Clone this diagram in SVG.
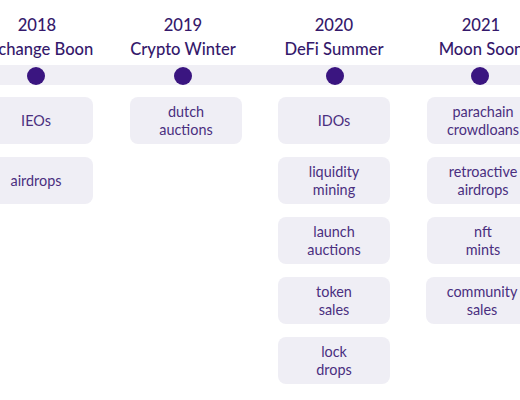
<svg xmlns="http://www.w3.org/2000/svg" width="520" height="400" viewBox="0 0 520 400">
<style>
.hd{font-family:Lato,"Noto Sans",sans-serif;font-size:16.6px;fill:#35196b;text-anchor:middle;font-weight:500}
.bx{fill:#efeef5}
.bt{font-family:Lato,"Noto Sans",sans-serif;font-size:14.4px;fill:#4a2f80;text-anchor:middle}
.dot{fill:#3a1580}
</style>
<rect width="520" height="400" fill="#ffffff"/>
<g id="timeline">
<rect x="0" y="65" width="520" height="20" fill="#f0eff5"/>
</g>
<g id="col2018">
<text class="hd" x="37" y="31">2018</text>
<text class="hd" x="37" y="55">Exchange Boon</text>
<circle class="dot" cx="36" cy="76" r="9"/>
</g>
<g id="col2019">
<text class="hd" x="183" y="31">2019</text>
<text class="hd" x="183" y="55">Crypto Winter</text>
<circle class="dot" cx="183" cy="76" r="9"/>
</g>
<g id="col2020">
<text class="hd" x="334" y="31">2020</text>
<text class="hd" x="334" y="55">DeFi Summer</text>
<circle class="dot" cx="335" cy="76" r="9"/>
</g>
<g id="col2021">
<text class="hd" x="481" y="31">2021</text>
<text class="hd" x="481" y="55">Moon Soon</text>
<circle class="dot" cx="480" cy="76" r="9"/>
</g>
<g id="n-ieos"><rect class="bx" x="-21" y="97" width="114" height="47" rx="8"/><text class="bt" x="36" y="126">IEOs</text></g>
<g id="n-airdrops"><rect class="bx" x="-21" y="157" width="114" height="47" rx="8"/><text class="bt" x="36" y="186">airdrops</text></g>
<g id="n-dutch"><rect class="bx" x="130" y="97" width="112" height="47" rx="8"/><text class="bt" x="186" y="117">dutch</text><text class="bt" x="186" y="135">auctions</text></g>
<g id="n-idos"><rect class="bx" x="278" y="97" width="112" height="47" rx="8"/><text class="bt" x="334" y="126">IDOs</text></g>
<g id="n-liquidity"><rect class="bx" x="278" y="157" width="112" height="47" rx="8"/><text class="bt" x="334" y="177">liquidity</text><text class="bt" x="334" y="195">mining</text></g>
<g id="n-launch"><rect class="bx" x="278" y="217" width="112" height="47" rx="8"/><text class="bt" x="334" y="237">launch</text><text class="bt" x="334" y="255">auctions</text></g>
<g id="n-token"><rect class="bx" x="278" y="277" width="112" height="47" rx="8"/><text class="bt" x="334" y="297">token</text><text class="bt" x="334" y="315">sales</text></g>
<g id="n-lock"><rect class="bx" x="278" y="337" width="112" height="47" rx="8"/><text class="bt" x="334" y="357">lock</text><text class="bt" x="334" y="375">drops</text></g>
<g id="n-parachain"><rect class="bx" x="427" y="97" width="112" height="47" rx="8"/><text class="bt" x="483" y="117">parachain</text><text class="bt" x="483" y="135">crowdloans</text></g>
<g id="n-retro"><rect class="bx" x="427" y="157" width="112" height="47" rx="8"/><text class="bt" x="483" y="177">retroactive</text><text class="bt" x="483" y="195">airdrops</text></g>
<g id="n-nft"><rect class="bx" x="427" y="217" width="112" height="47" rx="8"/><text class="bt" x="483" y="237">nft</text><text class="bt" x="483" y="255">mints</text></g>
<g id="n-community"><rect class="bx" x="426" y="277" width="112" height="47" rx="8"/><text class="bt" x="482" y="297">community</text><text class="bt" x="482" y="315">sales</text></g>
<g id="connectors"></g>
</svg>
